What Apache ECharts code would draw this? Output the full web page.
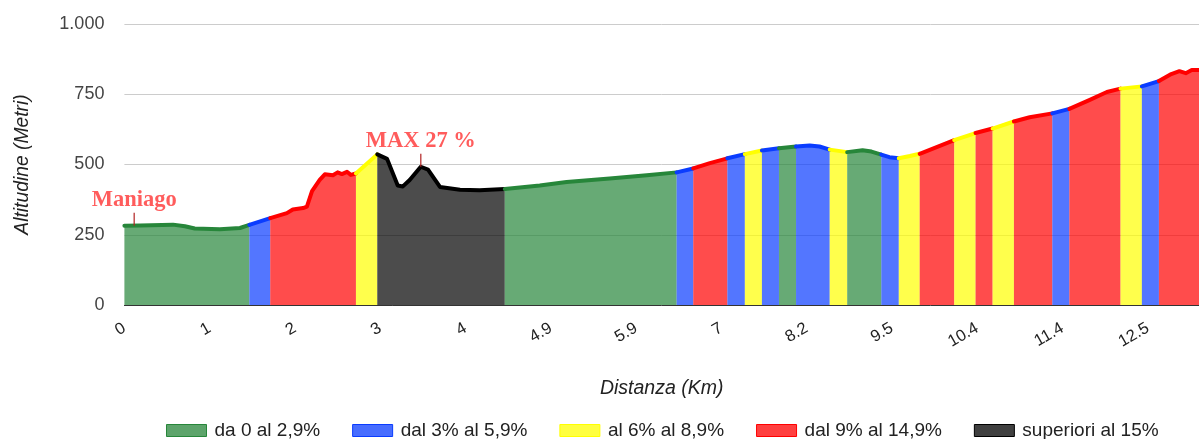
<!DOCTYPE html>
<html>
<head>
<meta charset="utf-8">
<script src="https://cdn.jsdelivr.net/npm/echarts@6/dist/echarts.min.js"></script>
<style>
html,body{margin:0;padding:0;background:#fff;}
#chart{width:1199px;height:439px;}
</style>
</head>
<body>
<div id="chart"></div>
<script>
// ---- data ----
const xTickLabels = ['0','1','2','3','4','4.9','5.9','7','8.2','9.5','10.4','11.4','12.5'];
// position along the track (sample index) and altitude (m)
const trackPoint = [0,3.7,11.4,14.2,16.5,22.4,27.1,29.3,34.2,38.1,39.5,41.9,42.8,44,45.8,47,48.9,50,51,52.2,53.1,54.3,59.3,61.6,64.1,65.3,66.9,69.5,71.2,74,78.7,83.3,89.2,97.4,103.7,113.8,122.5,129.5,133.4,137.3,141.4,145.5,149.5,153.5,157.5,160.7,163,165.4,169.5,173.1,175.2,177.5,179.4,181.6,184.2,186.5,194.6,199.6,203.6,208.6,212.3,217.6,221.6,226.4,230.4,233.6,238.6,242.6,245.5,247.4,248.9,250.3,252];
const altitude   = [282,283,286,280,272,270,274,285,309,327,340,345,350,405,445,465,462,472,466,474,463,468,536,520,425,422,445,492,482,420,410,408,413,425,438,450,462,472,486,505,522,537,550,558,564,568,564,553,544,551,546,535,526,522,530,538,587,612,628,653,668,682,698,730,758,770,778,797,822,832,825,836,836];
// gradient segments: start position and grade class
const segmentStart = [0,29.3,34.2,54.3,59.3,89.2,129.5,133.4,141.4,145.5,149.5,153.5,157.5,165.4,169.5,177.5,181.6,186.5,194.6,199.6,203.6,208.6,217.6,221.6,233.6,238.6,242.6];
const segmentGrade = [0,1,3,2,4,0,1,3,1,2,1,0,1,2,0,1,2,3,2,3,2,3,1,3,2,1,3];
const gradeNames = ['da 0 al 2,9%','dal 3% al 5,9%','al 6% al 8,9%','dal 9% al 14,9%','superiori al 15%'];
const annotationText = ['Maniago','MAX 27 %'];
const annotationPoint = [2.3, 69.5];
const annotationAlt = [282, 492];

// ---- styles ----
const lineColors = ['#27863a','#0a3cff','#ffff00','#ff0000','#000000'];
function fillOf(hex, a){
  const r=parseInt(hex.slice(1,3),16), g=parseInt(hex.slice(3,5),16), b=parseInt(hex.slice(5,7),16);
  return 'rgba('+r+','+g+','+b+','+a+')';
}
const FONT = "'Liberation Sans', Arial, sans-serif";

const lastX = trackPoint[trackPoint.length-1];
const series = [];
segmentStart.forEach((start, i) => {
  const end = i+1 < segmentStart.length ? segmentStart[i+1] : lastX;
  const g = segmentGrade[i];
  const pts = [];
  trackPoint.forEach((x, k) => { if (x >= start && x <= end) pts.push([x, altitude[k]]); });
  series.push({
    type:'line', name: gradeNames[g], data: pts,
    showSymbol:false, symbol:'none', smooth:false,
    lineStyle:{color: lineColors[g], width:4, join:'round', cap:'round'},
    itemStyle:{color: lineColors[g]},
    areaStyle:{color: lineColors[g], opacity:0.7},
    emphasis:{disabled:true}, silent:true, z:2
  });
});
series.push({
  type:'scatter', name:'annotazioni',
  data: annotationText.map((t,i)=>({name:t, value:[annotationPoint[i], annotationAlt[i]]})),
  symbol:'rect', symbolSize:[1.5,13], symbolOffset:[0,-6.5],
  itemStyle:{color:'#b22222'},
  label:{show:true, position:'top', distance:1, formatter: p => p.name,
    color:'#ff3333', fontFamily:"'Liberation Serif', 'Times New Roman', serif", fontWeight:'bold', fontSize:22.5},
  silent:true, z:5
});

const chart = echarts.init(document.getElementById('chart'), null, {renderer:'canvas'});
chart.setOption({
  animation:false,
  backgroundColor:'#fff',
  grid:{left:124.4, right:0, top:24, bottom:134, containLabel:false},
  legend:{
    left:166, top:421, itemWidth:40, itemHeight:12, itemGap:32, padding:0,
    textStyle:{fontFamily:FONT, fontSize:19, color:'#222', padding:[0,0,0,3]},
    data: gradeNames.map((n,i)=>({name:n, icon:'rect', itemStyle:{color: fillOf(lineColors[i],0.75), borderColor: lineColors[i], borderWidth:1}}))
  },
  xAxis:{
    type:'value', min:0, max:252, interval:20,
    axisLine:{show:true, lineStyle:{color:'#333', width:1}},
    axisTick:{show:false}, splitLine:{show:false},
    axisLabel:{rotate:30, margin:22, fontFamily:FONT, fontSize:16.5, color:'#222', showMaxLabel:false,
      formatter: v => { const i = v/20; return Number.isInteger(i) && xTickLabels[i] !== undefined ? xTickLabels[i] : ''; }},
    name:'Distanza (Km)', nameLocation:'middle', nameGap:74,
    nameTextStyle:{fontFamily:FONT, fontStyle:'italic', fontSize:19.5, color:'#222'}
  },
  yAxis:{
    type:'value', min:0, max:1000, interval:250,
    axisLine:{show:false}, axisTick:{show:false},
    splitLine:{lineStyle:{color:'#cccccc', width:1}},
    axisLabel:{margin:20, fontFamily:FONT, fontSize:18, color:'#444',
      formatter: v => v >= 1000 ? Math.floor(v/1000)+'.'+String(v%1000).padStart(3,'0') : String(v)},
    name:'Altitudine (Metri)', nameLocation:'middle', nameGap:92,
    nameTextStyle:{fontFamily:FONT, fontStyle:'italic', fontSize:19.3, color:'#222'}
  },
  series: series
});
</script>
</body>
</html>
